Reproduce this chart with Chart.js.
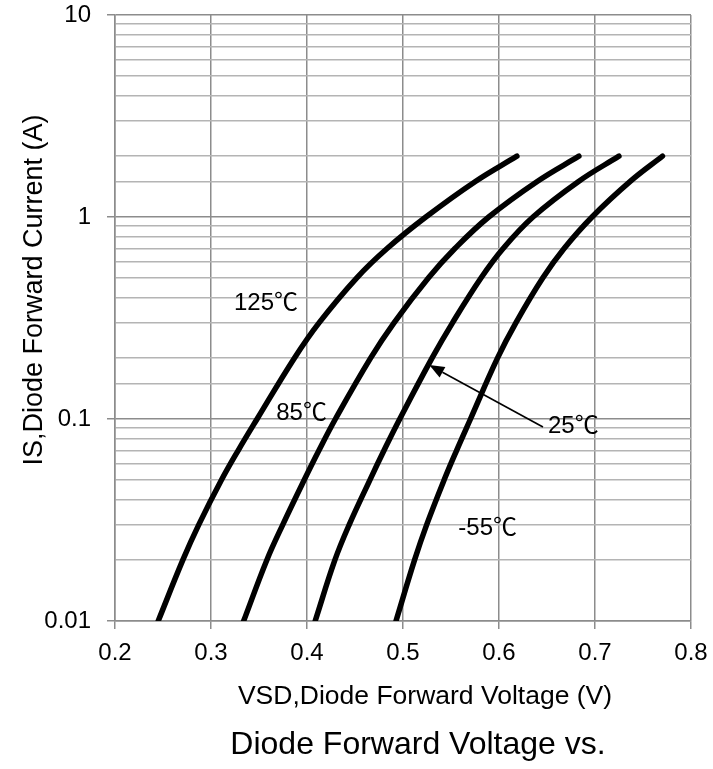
<!DOCTYPE html>
<html>
<head>
<meta charset="utf-8">
<script src="https://cdn.jsdelivr.net/npm/chart.js@4"></script>
<style>
html,body{margin:0;padding:0;background:#fff;}
#wrap{width:713px;height:769px;position:relative;}
</style>
</head>
<body>
<div id="wrap"><canvas id="c"></canvas></div>
<script>
// Forward current levels (A) at which each curve is sampled
const currentA = [0.01,0.02,0.03,0.05,0.07,0.1,0.2,0.3,0.5,0.7,1,1.5,2];
// Forward voltage (V) per temperature
const vf125 = [0.245,0.2706,0.2873,0.311,0.3284,0.348,0.3868,0.4127,0.4519,0.4837,0.5238,0.5754,0.6186];
const vf85  = [0.334,0.3581,0.3748,0.3972,0.4125,0.4296,0.4662,0.4908,0.5266,0.5543,0.5893,0.6398,0.6832];
const vf25  = [0.4085,0.429,0.444,0.4656,0.4803,0.4966,0.5302,0.5517,0.5814,0.6045,0.6354,0.6829,0.7249];
const vfM55 = [0.4927,0.512,0.5247,0.5429,0.5559,0.5703,0.5984,0.6177,0.6457,0.668,0.6969,0.7367,0.7703];
const seriesNames = ['125\u2103','85\u2103','25\u2103','-55\u2103'];
const xTicks = [0.2,0.3,0.4,0.5,0.6,0.7,0.8];
const yTickLabels = ['0.01','0.1','1','10'];
// Curve labels, placed in data units [text, V, A]
const curveLabels = [
  ['125\u2103', 0.3573, 0.375],
  ['85\u2103', 0.3943, 0.1065],
  ['25\u2103', 0.6774, 0.0916],
  ['-55\u2103', 0.5882, 0.02876]
];
// Arrow for the 25℃ label: tail [V, A] -> head [V, A]
const arrowTail = [0.6458, 0.0913];
const arrowHead = [0.5274, 0.185];
// Texts
const xTitle = 'VSD,Diode Forward Voltage (V)';
const yTitle = 'IS,Diode Forward Current (A)';
const chartTitle = 'Diode Forward Voltage vs.';

const FONT = '"Liberation Sans", Arial, "Noto Sans CJK SC", sans-serif';
const GRID_DARK = '#8c8c8c';
const GRID_LIGHT = '#b4b4b4';

function toPts(vs){ return vs.map((v,i)=>({x:v, y:currentA[i]})); }
function isPow10(v){ const l=Math.log10(v); return Math.abs(l-Math.round(l))<1e-6; }

const textPlugin = {
  id:'texts',
  afterDatasetsDraw(chart){
    const {ctx, chartArea:ca, scales:{x,y}} = chart;
    ctx.save();
    ctx.fillStyle = '#000';
    ctx.textAlign = 'center';
    ctx.textBaseline = 'middle';
    ctx.font = '24px ' + FONT;
    curveLabels.forEach(([t,vx,vy])=>{
      ctx.fillText(t, x.getPixelForValue(vx), y.getPixelForValue(vy));
    });
    // arrow
    const x1 = x.getPixelForValue(arrowTail[0]), y1 = y.getPixelForValue(arrowTail[1]);
    const x2 = x.getPixelForValue(arrowHead[0]), y2 = y.getPixelForValue(arrowHead[1]);
    const ang = Math.atan2(y2-y1, x2-x1);
    const hl = 15, hw = 6;
    const bx = x2 - hl*Math.cos(ang), by = y2 - hl*Math.sin(ang);
    ctx.strokeStyle = '#000';
    ctx.lineWidth = 1.6;
    ctx.beginPath(); ctx.moveTo(x1,y1); ctx.lineTo(bx,by); ctx.stroke();
    ctx.beginPath();
    ctx.moveTo(x2,y2);
    ctx.lineTo(bx + hw*Math.sin(ang), by - hw*Math.cos(ang));
    ctx.lineTo(bx - hw*Math.sin(ang), by + hw*Math.cos(ang));
    ctx.closePath(); ctx.fill();
    // axis titles and chart title (offset like the original layout)
    const cx = (ca.left + ca.right)/2;
    ctx.font = '26.5px ' + FONT;
    ctx.fillText(xTitle, cx + 22, ca.bottom + 75.5);
    ctx.font = '32px ' + FONT;
    ctx.fillText(chartTitle, cx + 15, ca.bottom + 124);
    ctx.save();
    ctx.translate(ca.left - 80, (ca.top + ca.bottom)/2 - 28);
    ctx.rotate(-Math.PI/2);
    ctx.font = '27px ' + FONT;
    ctx.fillText(yTitle, 0, 0);
    ctx.restore();
    ctx.restore();
  }
};

const allV = [vf125, vf85, vf25, vfM55];
new Chart(document.getElementById('c'), {
  type:'line',
  data:{
    datasets: allV.map((vs,i)=>({
      label: seriesNames[i],
      data: toPts(vs),
      borderColor:'#000',
      borderWidth:5.5,
      pointRadius:0,
      fill:false,
      tension:0.4,
      borderCapStyle:'round',
      borderJoinStyle:'round'
    }))
  },
  options:{
    responsive:true,
    maintainAspectRatio:false,
    animation:false,
    devicePixelRatio:1,
    layout:{padding:{top:15,right:22,bottom:0,left:0}},
    plugins:{
      legend:{display:false},
      tooltip:{enabled:false},
      title:{display:false}
    },
    scales:{
      x:{
        type:'linear',
        min:0.2, max:0.8,
        afterFit(s){ s.height = 148; s.paddingLeft = 0; s.paddingRight = 0; },
        afterBuildTicks(s){ s.ticks = xTicks.map(v=>({value:v})); },
        ticks:{
          callback:(v)=>Number(v).toFixed(1),
          color:'#000',
          font:{family:FONT,size:24},
          padding:10,
          maxRotation:0,
          autoSkip:false
        },
        grid:{color:GRID_DARK,lineWidth:1.5,tickLength:8,tickColor:GRID_DARK,tickWidth:1.5},
        border:{color:GRID_DARK,width:1.5}
      },
      y:{
        type:'logarithmic',
        min:0.01, max:10,
        afterFit(s){ s.width = 115; s.paddingTop = 0; s.paddingBottom = 0; },
        ticks:{
          autoSkip:false,
          callback:(v)=>{ if(!isPow10(v)) return ''; const s = String(Number(v.toPrecision(1))); return yTickLabels.includes(s)?s:''; },
          color:'#000',
          font:{family:FONT,size:24},
          padding:16
        },
        grid:{
          color:(c)=> (c.tick && isPow10(c.tick.value)) ? GRID_DARK : GRID_LIGHT,
          tickColor:(c)=> (c.tick && isPow10(c.tick.value)) ? GRID_DARK : 'rgba(0,0,0,0)',
          lineWidth:1.5,
          tickLength:8,
          tickWidth:1.5
        },
        border:{color:GRID_DARK,width:1.5}
      }
    }
  },
  plugins:[textPlugin]
});
</script>
</body>
</html>
